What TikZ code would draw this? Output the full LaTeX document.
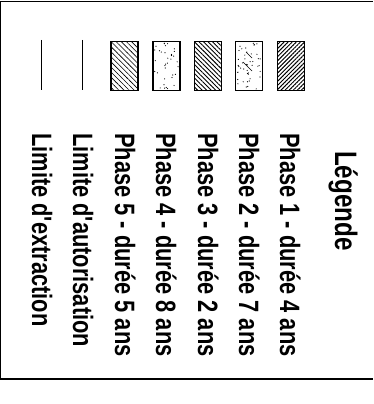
\documentclass[tikz,border=0pt]{standalone}
\usepackage{fontspec}
\newfontfamily\legfont{Liberation Sans Bold}[FakeStretch=0.78]
\usetikzlibrary{patterns.meta,positioning}

\tikzset{
  legtext/.style={anchor=base west, rotate=-90, inner sep=0pt,
    font=\legfont\fontsize{28}{30}\selectfont},
  legtitle/.style={legtext, font=\legfont\fontsize{31}{33}\selectfont},
  phasebox/.style={draw, line width=1.4pt, minimum width=27pt, minimum height=49pt, inner sep=0pt},
  limline/.style={line width=1.7pt},
  frameline/.style={line width=1.2pt}
}

% scattered dots inside a box
\newcommand{\stipple}[3]{%
  \pgfmathsetseed{#1}%
  \foreach \k in {1,...,#2}{%
    \pgfmathsetmacro\dx{rnd*24-12}%
    \pgfmathsetmacro\dy{rnd*46-23}%
    \fill (path picture bounding box.center) ++(\dx pt,\dy pt) circle (#3);
  }}

\begin{document}
\begin{tikzpicture}[x=1pt,y=-1pt]
  \useasboundingbox (0,0) rectangle (373,404);
  % frame
  \coordinate (tl) at (0,1.5);
  \coordinate (tr) at (373,1.5);
  \coordinate (bl) at (0,379);
  \coordinate (br) at (373,379);
  \draw[frameline] (bl) -- (tl) -- (tr);
  \draw[frameline] (bl) -- (br);
  % limit lines
  \coordinate (ext top) at (41.5,40);
  \coordinate (ext bot) at (41.5,90);
  \coordinate (aut top) at (82.5,40);
  \coordinate (aut bot) at (82.5,90);
  \draw[limline] (ext top) -- (ext bot);
  \draw[limline] (aut top) -- (aut bot);
  % phase boxes
  \node[phasebox, path picture={\stipple{11}{90}{0.55pt}},
    pattern={Lines[angle=-45,distance=3.6pt,line width=0.6pt]}] (ph5) at (124.5,66) {};
  \node[phasebox, path picture={\stipple{23}{35}{0.6pt}}] (ph4) at (166.5,66) {};
  \node[phasebox, path picture={\stipple{37}{40}{0.5pt}},
    pattern={Lines[angle=-45,distance=3.2pt,line width=0.9pt]}] (ph3) at (208,66) {};
  \node[phasebox, path picture={\stipple{41}{45}{0.6pt}
      \draw[line width=0.7pt] ([shift={(-6pt,4pt)}]path picture bounding box.center) -- ++(9pt,-9pt);
      \draw[line width=0.7pt] ([shift={(-3pt,14pt)}]path picture bounding box.center) -- ++(6pt,-6pt);}] (ph2) at (249,66) {};
  \node[phasebox, pattern={Lines[angle=45,distance=2.9pt,line width=1pt]}] (ph1) at (291,66) {};
  % legend texts
  \node[legtitle] (title) at (335,151) {Légende};
  \node[legtext] (t1) at (280,133) {Phase 1 - durée 4 ans};
  \node[legtext] (t2) at (239,133) {Phase 2 - durée 7 ans};
  \node[legtext] (t3) at (198,133) {Phase 3 - durée 2 ans};
  \node[legtext] (t4) at (156,133) {Phase 4 - durée 8 ans};
  \node[legtext] (t5) at (115,133) {Phase 5 - durée 5 ans};
  \node[legtext] (t6) at (73,133) {Limite d'autorisation};
  \node[legtext] (t7) at (32,133) {Limite d'extraction};
\end{tikzpicture}
\end{document}
